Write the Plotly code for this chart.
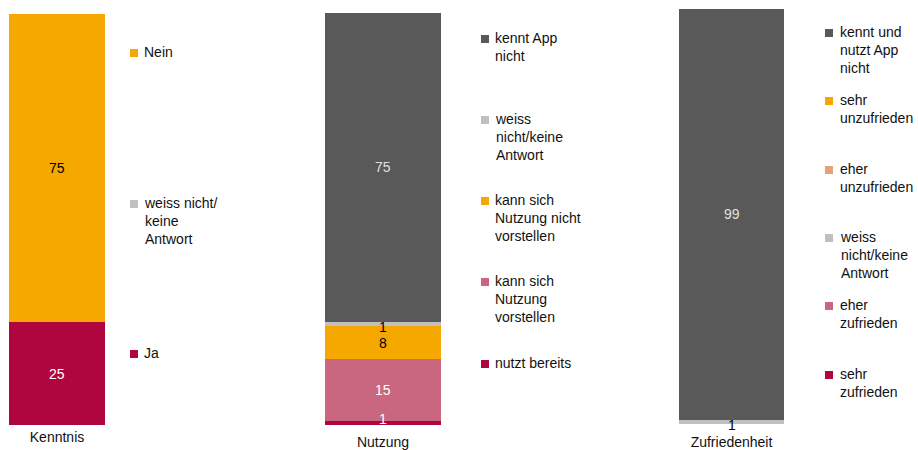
import plotly.graph_objects as go

# --- data (percent) ---
kenntnis_cats = ["Ja", "weiss nicht/<br>keine<br>Antwort", "Nein"]
kenntnis_vals = [25, 0, 75]
kenntnis_cols = ["#B0063F", "#C0C0C0", "#F5A800"]
kenntnis_txtc = ["white", "black", "black"]

nutzung_cats = ["nutzt bereits", "kann sich<br>Nutzung<br>vorstellen",
                "kann sich<br>Nutzung nicht<br>vorstellen",
                "weiss<br>nicht/keine<br>Antwort", "kennt App<br>nicht"]
nutzung_vals = [1, 15, 8, 1, 75]
nutzung_cols = ["#B0063F", "#C9677F", "#F5A800", "#C0C0C0", "#595959"]
nutzung_txtc = ["white", "white", "black", "black", "#E0E0E0"]

zufr_cats = ["sehr<br>zufrieden", "eher<br>zufrieden", "weiss<br>nicht/keine<br>Antwort",
             "eher<br>unzufrieden", "sehr<br>unzufrieden", "kennt und<br>nutzt App<br>nicht"]
zufr_vals = [0, 0, 1, 0, 0, 99]
zufr_cols = ["#B0063F", "#C9677F", "#C0C0C0", "#E3A07A", "#F5A800", "#595959"]
zufr_txtc = ["white", "white", "black", "black", "black", "#E0E0E0"]

W, H = 918, 450
FONT = "Liberation Sans, Arial, sans-serif"


def px_x(v):
    return v / W


def px_y(v):
    return 1 - v / H


panels = [
    # name, cats, vals, cols, text colours, axis suffix, x px, y px, tick gap, legend layout
    ("Kenntnis", kenntnis_cats, kenntnis_vals, kenntnis_cols, kenntnis_txtc, "",
     (9, 105), (14, 425), 2, (130, 143, [354, 204, 53])),
    ("Nutzung", nutzung_cats, nutzung_vals, nutzung_cols, nutzung_txtc, "2",
     (325, 441), (13, 425), 7, (481, 494, [364, 282, 201, 120, 39])),
    ("Zufriedenheit", zufr_cats, zufr_vals, zufr_cols, zufr_txtc, "3",
     (679, 784), (9, 424), 8, (825, 839, [375, 306, 238, 170, 101, 33])),
]

fig = go.Figure()
annotations = []
shapes = []

for name, cats, vals, cols, txtc, sfx, xpx, ypx, gap, leg in panels:
    base = 0
    for cat, v, c, tc in zip(cats, vals, cols, txtc):
        fig.add_trace(go.Bar(
            x=[name], y=[v], name=cat, marker=dict(color=c, line=dict(width=0)),
            width=1, showlegend=False, hoverinfo="skip",
            xaxis="x" + sfx, yaxis="y" + sfx,
        ))
        if v:
            # tiny segments: label sits slightly off-centre like the original
            shift = 0
            if v <= 1:
                shift = 4 if base < 5 and sfx == "2" else -3
            annotations.append(dict(
                text=str(v), x=name, y=base + v / 2, xref="x" + sfx, yref="y" + sfx,
                showarrow=False, yshift=shift,
                font=dict(size=14, color=tc, family=FONT),
            ))
        base += v
    fig.layout["xaxis" + sfx] = dict(
        domain=[px_x(xpx[0]), px_x(xpx[1])], range=[-0.5, 0.5], showgrid=False,
        zeroline=False, showline=False, ticks="", fixedrange=True,
        tickfont=dict(size=14, color="#111", family=FONT), ticklabelstandoff=gap,
        anchor="y" + sfx,
    )
    fig.layout["yaxis" + sfx] = dict(
        domain=[px_y(ypx[1]), px_y(ypx[0])], range=[0, 100], visible=False,
        fixedrange=True, anchor="x" + sfx,
    )
    sq_x, tx_x, centers = leg
    for cat, c, cy in zip(cats, cols, centers):
        shapes.append(dict(type="rect", xref="paper", yref="paper",
                           x0=px_x(sq_x), x1=px_x(sq_x + 8),
                           y0=px_y(cy + 4), y1=px_y(cy - 4),
                           fillcolor=c, line=dict(width=0)))
        annotations.append(dict(
            text=cat, xref="paper", yref="paper", x=px_x(tx_x), y=px_y(cy - 10),
            xanchor="left", yanchor="top", align="left", showarrow=False,
            font=dict(size=14, color="#111", family=FONT), borderpad=0,
        ))

fig.update_layout(
    barmode="stack", width=W, height=H,
    margin=dict(l=0, r=0, t=0, b=0),
    paper_bgcolor="white", plot_bgcolor="white",
    font=dict(family=FONT), hovermode=False,
    annotations=annotations, shapes=shapes,
)

# drop the default page margin so the 918x450 figure fills the window
fig.write_html("out.html", config={"displayModeBar": False},
               post_script="document.body.style.margin='0';document.body.style.overflow='hidden';")
